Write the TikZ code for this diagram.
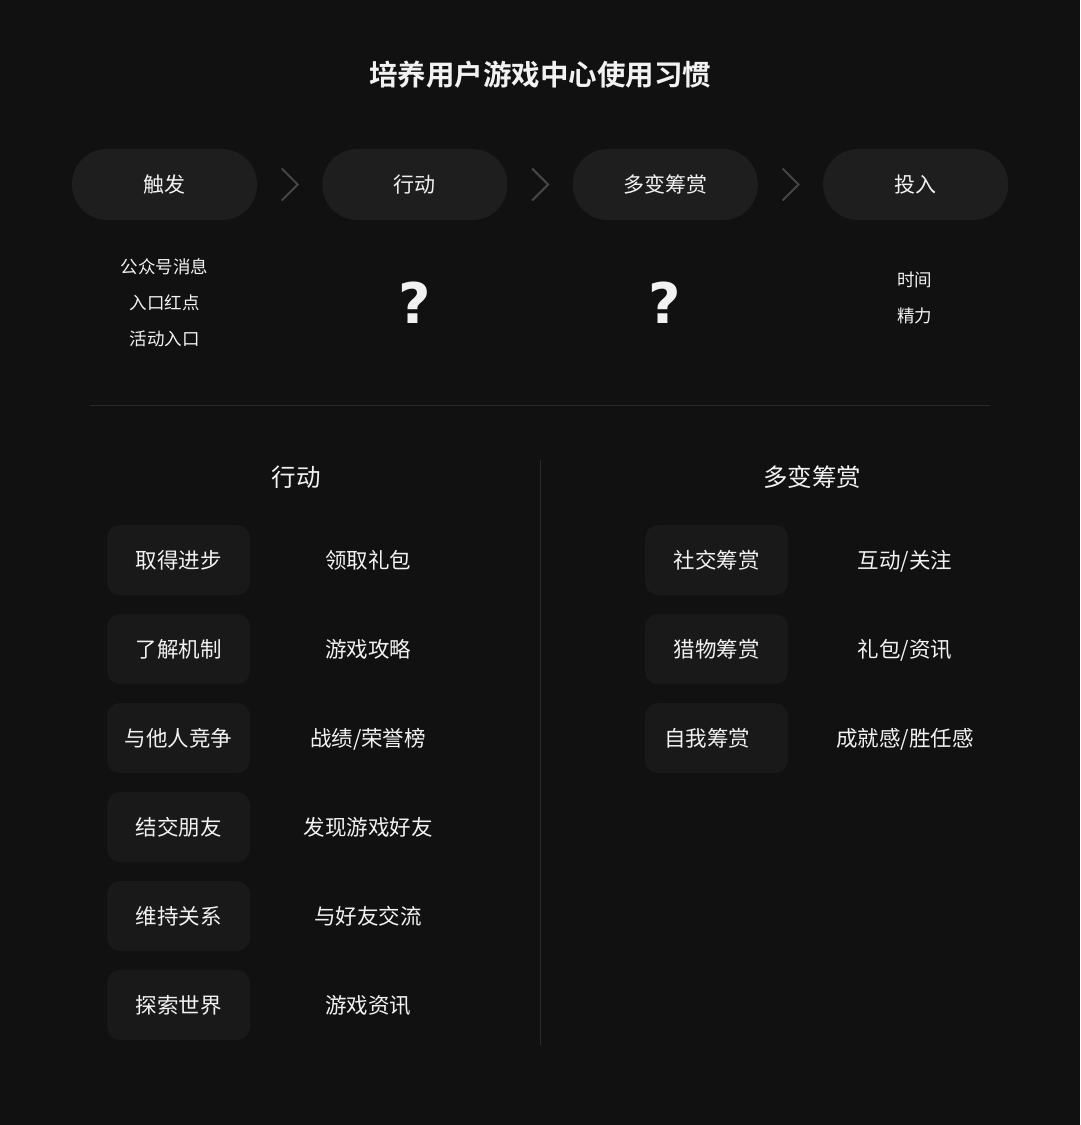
\documentclass[tikz,border=0pt]{standalone}
\usepackage{fontspec}
\setmainfont{Noto Sans CJK SC}[BoldFont={Noto Sans CJK SC Bold}]
\newfontfamily\qfont{DejaVu Sans}[BoldFont={DejaVu Sans Bold}]
\usetikzlibrary{positioning}
\definecolor{bgc}{HTML}{111111}
\definecolor{pillc}{HTML}{1E1E1E}
\definecolor{boxc}{HTML}{191919}
\definecolor{linec}{HTML}{2A2A2A}
\definecolor{chevc}{HTML}{454545}
\definecolor{txtc}{HTML}{F2F2F2}
\tikzset{
  pill/.style={rectangle, fill=pillc, rounded corners=35pt, minimum width=185pt, minimum height=71pt, inner sep=0pt, text=txtc, text height=18pt, text depth=2pt, font=\fontsize{21}{24}\selectfont},
  itembox/.style={rectangle, fill=boxc, rounded corners=13pt, minimum width=143pt, minimum height=70pt, inner sep=0pt, text=txtc, text height=19pt, text depth=1.5pt, font=\fontsize{21.5}{24}\selectfont},
  itemtext/.style={text=txtc, inner sep=0pt, text height=19pt, text depth=1.5pt, font=\fontsize{21.5}{24}\selectfont},
  small/.style={text=txtc, align=center, inner sep=0pt, font=\fontsize{17.5}{36}\selectfont},
  head/.style={text=txtc, inner sep=0pt, text height=20pt, text depth=3pt, font=\fontsize{24.5}{28}\selectfont},
  qmark/.style={text=txtc, inner sep=0pt, font=\qfont\bfseries\fontsize{56}{56}\selectfont},
  chev/.style={draw=chevc, line width=2pt},
  rule/.style={draw=linec, line width=1pt}
}
\begin{document}
\begin{tikzpicture}[x=1pt,y=-1pt,node distance=65pt]
\fill[bgc] (0,0) rectangle (1080,1125);
\useasboundingbox (0,0) rectangle (1080,1125);
\node[text=txtc, font=\fontsize{28.5}{32}\bfseries] (title) at (540,75) {培养用户游戏中心使用习惯};
% top flow
\node[pill] (t1) at (164.5,184.5) {触发};
\node[pill, right=of t1] (t2) {行动};
\node[pill, right=of t2] (t3) {多变筹赏};
\node[pill, right=of t3] (t4) {投入};
\foreach \a/\b in {t1/t2,t2/t3,t3/t4}{
  \path (\a.east) -- (\b.west) coordinate[midway] (m\a);
  \draw[chev] ([shift={(-8,-16)}]m\a) -- ([shift={(8,0)}]m\a) -- ([shift={(-8,16)}]m\a);
}
\node[small] (s1) at (164.5,303) {公众号消息\\入口红点\\活动入口};
\node[qmark] (q2) at (414.5,303) {?};
\node[qmark] (q3) at (664.5,303) {?};
\node[small] (s4) at (914.5,298) {时间\\精力};
%\draw[rule] (90,405) -- (990,405);
\coordinate (hl) at (90,405); \coordinate (hr) at (990,405);
\draw[rule] (hl) -- (hr);
% lower part
\coordinate (vt) at (540.5,460); \coordinate (vb) at (540.5,1045);
\draw[rule] (vt) -- (vb);
\node[head] (h1) at (296,478) {行动};
\node[head] (h2) at (812,478) {多变筹赏};
\foreach \a/\b [count=\i] in {取得进步/领取礼包, 了解机制/游戏攻略, 与他人竞争/{战绩/荣誉榜}, 结交朋友/发现游戏好友, 维持关系/与好友交流, 探索世界/游戏资讯}{
  \node[itembox] (a\i) at (178.5,{560+89*(\i-1)}) {\a};
  \node[itemtext] (b\i) at (368,{560+89*(\i-1)}) {\b};
}
\foreach \a/\b [count=\i] in {社交筹赏/{互动/关注}, 猎物筹赏/{礼包/资讯}}{
  \node[itembox] (c\i) at (716.5,{560+89*(\i-1)}) {\a};
  \node[itemtext] (d\i) at (905,{560+89*(\i-1)}) {\b};
}
\node[itembox, text width=143pt, align=left] (c3) at (716.5,738) {\hspace{19pt}自我筹赏};
\node[itemtext] (d3) at (905,738) {成就感/胜任感};
\end{tikzpicture}
\end{document}
